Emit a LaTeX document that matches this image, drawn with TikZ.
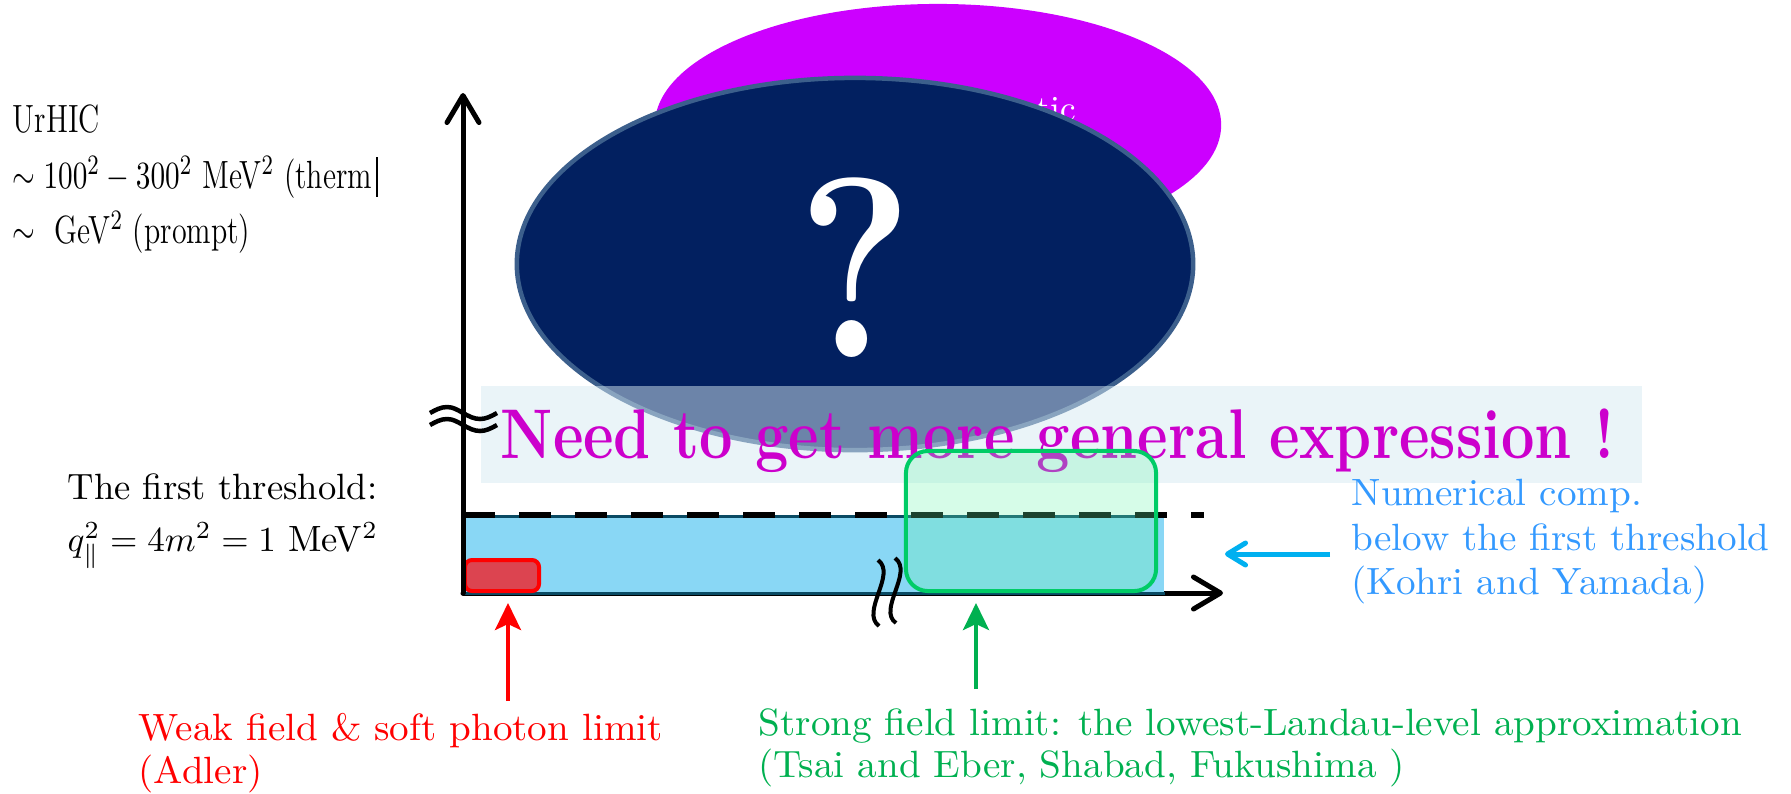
\documentclass[tikz,border=0pt]{standalone}
\usepackage{fontspec}
\usepackage{graphicx}
\usetikzlibrary{arrows.meta,shapes.geometric}
\definecolor{navyfill}{RGB}{2,32,96}
\definecolor{navyedge}{RGB}{60,95,140}
\definecolor{violetfill}{RGB}{204,0,255}
\definecolor{magtext}{RGB}{204,0,204}
\definecolor{bandfill}{RGB}{214,233,242}
\definecolor{skyfill}{RGB}{137,215,245}
\definecolor{tealedge}{RGB}{10,75,100}
\definecolor{redfill}{RGB}{220,68,80}
\definecolor{grnedge}{RGB}{0,204,102}
\definecolor{grnfill}{RGB}{104,244,170}
\definecolor{grntext}{RGB}{0,176,80}
\definecolor{cyanarrow}{RGB}{0,176,240}
\definecolor{bluetext}{RGB}{51,153,255}
\tikzset{
  axisline/.style={line width=0.05cm, line cap=round,
    -{Straight Barb[length=0.27cm,width=0.32cm,line cap=round,line join=round]}},
  cyanarr/.style={cyanarrow, line width=0.05cm,
    -{Straight Barb[length=0.18cm,width=0.22cm,line cap=round,line join=round]}},
  uparr/.style={line width=0.04cm,
    -{Stealth[length=0.27cm,width=0.26cm,inset=0.06cm]}},
  dashline/.style={line width=0.06cm, dash pattern=on 0.32cm off 0.24cm},
  breakline/.style={line width=0.04cm},
  lefttop/.style={anchor=base west, inner sep=0, font=\fontsize{11.2}{13}\selectfont},
  leftlow/.style={anchor=base west, inner sep=0, font=\fontsize{10.4}{12.5}\selectfont},
  label/.style={anchor=base west, inner sep=0, font=\fontsize{10.8}{13}\selectfont},
}
\newcommand{\widen}[1]{\scalebox{1.03}[1]{#1}}
\begin{document}
\begin{tikzpicture}[x=0.01cm,y=-0.01cm]
\useasboundingbox (0,0) rectangle (1791,793);

% magenta ellipse and its partly hidden text
\node[ellipse, fill=violetfill, inner sep=0, minimum width=5.66cm, minimum height=2.42cm] (magell) at (938,125) {};
\node[anchor=base west, inner sep=0, text=white, font=\fontsize{10}{12}\selectfont] (tictext) at (1036,120) {tic};

% navy ellipse with question mark
\node[ellipse, fill=navyfill, draw=navyedge, line width=0.045cm, inner sep=0,
      minimum width=6.76cm, minimum height=3.72cm] (navyell) at (855,264) {};
\node[anchor=base, inner sep=0, text=white, font=\bfseries\fontsize{73}{84}\selectfont] (qmark) at (855,357) {\scalebox{0.85}[1]{?}};

% translucent band
\node[anchor=north west, inner sep=0, fill=bandfill, fill opacity=0.5,
      minimum width=11.61cm, minimum height=0.97cm] (bandbox) at (480,385) {};
\node[anchor=base west, inner sep=0, text=magtext, font=\bfseries\fontsize{20}{24}\selectfont] (need) at (500,458)
  {\scalebox{0.845}[1]{Need to get more general expression !}};

% x axis
\coordinate (origin) at (463,593);
\coordinate (xtip) at (1223,593);
\coordinate (ytip) at (463,93);
\draw[axisline] (origin) -- (xtip);

% blue region
\node[anchor=north west, inner sep=0, fill=skyfill, minimum width=7cm, minimum height=0.76cm] (bluerect) at (463,516) {};
\draw[tealedge, line width=0.03cm] (bluerect.north east) -- (bluerect.north west) -- (bluerect.south west) -- (bluerect.south east);

% dashed threshold line
\coordinate (dashstart) at (463,515);
\coordinate (dashend) at (1204,515);
\draw[dashline] (dashstart) -- (dashend);

% red box
\node[draw=red, line width=0.04cm, fill=redfill, rounded corners=0.07cm, inner sep=0,
      minimum width=0.74cm, minimum height=0.31cm] (redrect) at (502,575.5) {};

% green box
\node[draw=grnedge, line width=0.04cm, fill=grnfill, fill opacity=0.27, draw opacity=1,
      rounded corners=0.22cm, inner sep=0, minimum width=2.5cm, minimum height=1.4cm] (grnrect) at (1031,521) {};

% y axis
\draw[axisline] (origin) -- (ytip);

% break mark on y axis
\coordinate (ybrk1) at (430,413);
\coordinate (ybrk2) at (430,425);
\draw[line width=0.045cm] (ybrk1) sin ++(17,-6) cos ++(16,6) sin ++(17,6) cos ++(17,-6);
\draw[line width=0.045cm] (ybrk2) sin ++(17,-6) cos ++(16,6) sin ++(17,6) cos ++(17,-6);

% break marks on x axis
\coordinate (xbrk1a) at (878,560);
\coordinate (xbrk1b) at (879,626);
\coordinate (xbrk2a) at (895,558);
\coordinate (xbrk2b) at (896,623);
\draw[breakline] (xbrk1a) .. controls (897,574) and (860,612) .. (xbrk1b);
\draw[breakline] (xbrk2a) .. controls (914,572) and (877,610) .. (xbrk2b);

% arrows
\coordinate (cyantail) at (1330,554);
\coordinate (cyantip) at (1225,554);
\draw[cyanarr] (cyantail) -- (cyantip);
\coordinate (redtail) at (508,701);
\coordinate (redtip) at (508,603);
\draw[uparr, red] (redtail) -- (redtip);
\coordinate (grntail) at (976,689);
\coordinate (grntip) at (976,603);
\draw[uparr, grntext] (grntail) -- (grntip);

% left texts
\node[lefttop] (urhic) at (12,132) {\scalebox{0.76}[1]{UrHIC}};
\node[lefttop] (therm) at (12,188) {\scalebox{0.76}[1]{$\sim 100^2-300^2$ MeV$^2$ (therm}};
\coordinate (bartop) at (377,157);
\coordinate (barbot) at (377,197);
\draw[line width=0.012cm] (bartop) -- (barbot);
\node[lefttop] (prompt) at (12,243) {\scalebox{0.76}[1]{$\sim$\ \ GeV$^2$ (prompt)}};

\node[leftlow] (thr1) at (67,499) {The first threshold:};
\node[leftlow] (thr2) at (67,551) {$q_{\parallel}^2 = 4m^2 = 1$ MeV$^2$};

% colored labels
\node[label, text=bluetext] (num1) at (1351,505) {\widen{Numerical comp.}};
\node[label, text=bluetext] (num2) at (1351,550) {\widen{below the first threshold}};
\node[label, text=bluetext] (num3) at (1351,594) {\widen{(Kohri and Yamada)}};

\node[label, text=red] (weak1) at (138,740) {\widen{Weak field \& soft photon limit}};
\node[label, text=red] (weak2) at (138,783) {\widen{(Adler)}};

\node[label, text=grntext] (strong1) at (758,735) {\widen{Strong field limit: the lowest-Landau-level approximation}};
\node[label, text=grntext] (strong2) at (758,777) {\widen{(Tsai and Eber, Shabad, Fukushima )}};
\end{tikzpicture}
\end{document}
